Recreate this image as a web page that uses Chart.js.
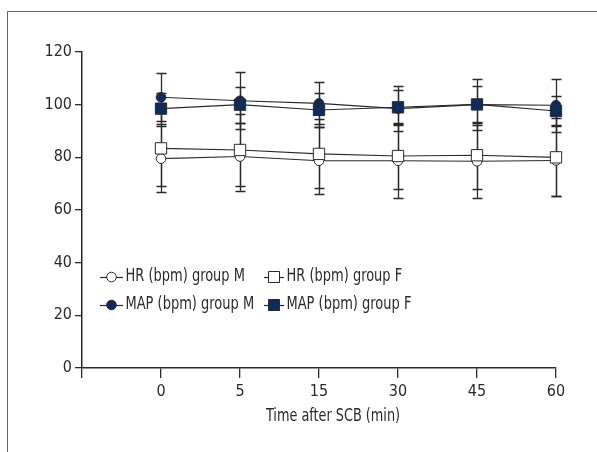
<!DOCTYPE html>
<html>
<head>
<meta charset="utf-8">
<script src="https://cdn.jsdelivr.net/npm/chart.js@4"></script>
<style>
  html, body { margin: 0; padding: 0; background: #fff; overflow: hidden; }
  #wrap { position: relative; width: 597px; height: 452px; }
  #frame { position: absolute; left: 7px; top: 11px; width: 620px; height: 470px;
           border-left: 1px solid #666; border-top: 1px solid #666; }
  canvas { position: absolute; left: 0; top: 0; }
</style>
</head>
<body>
<div id="wrap">
  <div id="frame"></div>
  <canvas id="grafico" width="597" height="452"></canvas>
</div>
<script>
// categorias del eje x (la primera vacia deja el hueco junto al eje y)
const axisLabels = ['', '0', '5', '15', '30', '45', '60'];
const timeLabels = ['0', '5', '15', '30', '45', '60'];
const yTicks = [0, 20, 40, 60, 80, 100, 120];

// medias y desviaciones
const hrM = [79.5, 80.3, 78.7, 78.7, 78.5, 78.8];
const hrMsd = [12.5, 12.9, 12.7, 14.1, 13.9, 13.5];
const hrF = [83.4, 82.8, 81.3, 80.5, 80.8, 80.0];
const hrFsd = [14.1, 13.7, 13.1, 12.5, 12.8, 14.8];
const mapM = [102.8, 101.5, 100.5, 98.5, 100.0, 99.8];
const mapMsd = [9.1, 10.8, 8.0, 8.6, 9.6, 10.0];
const mapF = [98.5, 100.0, 98.0, 99.0, 100.1, 97.6];
const mapFsd = [5.8, 6.8, 6.3, 6.6, 7.1, 5.8];

const seriesNames = ['HR (bpm) group M', 'HR (bpm) group F', 'MAP (bpm) group M', 'MAP (bpm) group F'];

const FONT = '"Liberation Sans Narrow", "DejaVu Sans Condensed", "Roboto Condensed", sans-serif';
const INK = '#2a2a2a';
const NAVY = '#0b2c5c';

function toPoints(vals) {
    return timeLabels.map((t, i) => ({ x: t, y: vals[i] }));
}

function makeDataset(label, vals, sds, shape, fill, order) {
    return {
        label: label,
        data: toPoints(vals),
        sd: sds,
        borderColor: INK,
        borderWidth: 1.1,
        pointStyle: shape,
        pointRadius: shape === 'rect' ? 8 : 4.8,
        pointBackgroundColor: fill,
        pointBorderColor: INK,
        pointBorderWidth: 1,
        pointHoverRadius: shape === 'rect' ? 8 : 4.8,
        order: order,
        tension: 0,
    };
}

// barras de error (media +/- DE), debajo de los marcadores
const errorBars = {
    id: 'errorBars',
    beforeDatasetsDraw(chart) {
        const ctx = chart.ctx;
        const yScale = chart.scales.y;
        ctx.save();
        ctx.strokeStyle = INK;
        ctx.lineWidth = 1.3;
        chart.data.datasets.forEach((ds, i) => {
            const meta = chart.getDatasetMeta(i);
            meta.data.forEach((pt, j) => {
                const v = ds.data[j].y;
                const yTop = Math.round(yScale.getPixelForValue(v + ds.sd[j])) + 0.5;
                const yBot = Math.round(yScale.getPixelForValue(v - ds.sd[j])) + 0.5;
                const x = Math.round(pt.x) + 0.5;
                ctx.beginPath();
                ctx.moveTo(x, yTop);
                ctx.lineTo(x, yBot);
                ctx.moveTo(x - 5, yTop);
                ctx.lineTo(x + 5, yTop);
                ctx.moveTo(x - 5, yBot);
                ctx.lineTo(x + 5, yBot);
                ctx.stroke();
            });
        });
        ctx.restore();
    }
};

function drawSymbol(ctx, x, y, shape, fill) {
    ctx.beginPath();
    if (shape === 'rect') {
        ctx.rect(x - 5.5, y - 5.5, 11, 11);
    } else {
        ctx.arc(x, y, 4.8, 0, Math.PI * 2);
    }
    ctx.fillStyle = fill;
    ctx.fill();
    ctx.strokeStyle = INK;
    ctx.lineWidth = 1;
    ctx.stroke();
}

// texto estrecho, como la fuente condensada del original
function narrowText(ctx, text, x, y, align, sx) {
    ctx.save();
    ctx.translate(x, y);
    ctx.scale(sx, 1);
    ctx.textAlign = align;
    ctx.fillText(text, 0, 0);
    ctx.restore();
}

// leyenda dentro del area del grafico y titulo del eje x
const extras = {
    id: 'extras',
    afterDraw(chart) {
        const ctx = chart.ctx;
        ctx.save();
        const items = [
            { x: 100, y: 277, shape: 'circle', fill: '#fff' },
            { x: 264, y: 277, shape: 'rect', fill: '#fff' },
            { x: 100, y: 305, shape: 'circle', fill: NAVY },
            { x: 264, y: 305, shape: 'rect', fill: NAVY },
        ];
        ctx.font = '17px ' + FONT;
        ctx.textBaseline = 'middle';
        items.forEach((it, i) => {
            const w = it.shape === 'rect' ? 20 : 23;
            ctx.strokeStyle = INK;
            ctx.lineWidth = 1.2;
            ctx.beginPath();
            ctx.moveTo(it.x, it.y + 0.5);
            ctx.lineTo(it.x + w, it.y + 0.5);
            ctx.stroke();
            drawSymbol(ctx, it.x + w / 2, it.y, it.shape, it.fill);
            ctx.fillStyle = INK;
            narrowText(ctx, seriesNames[i], it.x + w + 2.5, it.y, 'left', 0.85);
        });
        ctx.fillStyle = INK;
        narrowText(ctx, 'Time after SCB (min)', 333, 417, 'center', 0.84);
        ctx.restore();
    }
};

const ctx = document.getElementById('grafico').getContext('2d');

const myChart = new Chart(ctx, {
    type: 'line',
    data: {
        labels: axisLabels,
        datasets: [
            makeDataset(seriesNames[0], hrM, hrMsd, 'circle', '#fff', 1),
            makeDataset(seriesNames[1], hrF, hrFsd, 'rect', '#fff', 0),
            makeDataset(seriesNames[2], mapM, mapMsd, 'circle', NAVY, 1),
            makeDataset(seriesNames[3], mapF, mapFsd, 'rect', NAVY, 0),
        ],
    },
    options: {
        responsive: false,
        animation: false,
        layout: { padding: { top: 52, right: 41, bottom: 0, left: 0 } },
        plugins: {
            legend: { display: false },
            tooltip: { enabled: false },
        },
        scales: {
            x: {
                type: 'category',
                offset: false,
                grid: { drawOnChartArea: false, drawTicks: true, tickLength: 10, color: INK, lineWidth: 1.3 },
                border: { display: true, color: INK, width: 1.5 },
                ticks: { color: INK, font: { family: FONT, size: 16 }, padding: 4, maxRotation: 0, autoSkip: false },
                afterFit(scale) { scale.height = 84; },
            },
            y: {
                min: 0,
                max: 120,
                afterBuildTicks(scale) { scale.ticks = yTicks.map(v => ({ value: v })); },
                grid: { drawOnChartArea: false, drawTicks: true, tickLength: 7, color: INK, lineWidth: 1.3 },
                border: { display: true, color: INK, width: 1.5 },
                ticks: { color: INK, font: { family: FONT, size: 16 }, padding: 3 },
                afterFit(scale) { scale.width = 82; },
            },
        },
    },
    plugins: [errorBars, extras],
});
</script>
</body>
</html>
